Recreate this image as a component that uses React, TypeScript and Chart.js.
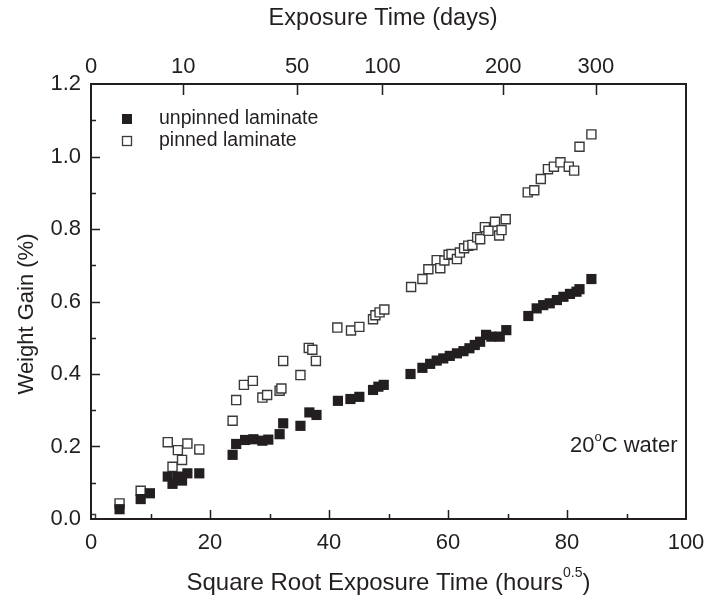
import React, { useEffect, useRef } from "react";
import { Chart, registerables } from "chart.js";

Chart.register(...registerables);

// Square-root exposure time (hours^0.5) and weight gain (%) for each laminate
const unpinnedX = [
  4.8, 8.35, 9.9, 12.9, 13.7, 14.6, 15.3, 16.2, 18.2, 23.8, 24.4, 25.9, 27.3,
  28.8, 29.8, 31.7, 32.3, 35.2, 36.7, 37.9, 41.5, 43.6, 45.1, 47.4, 48.3, 49.2,
  53.7, 55.7, 57.0, 58.1, 59.2, 60.3, 61.5, 62.6, 63.6, 64.5, 65.4, 66.4, 67.3,
  68.7, 69.8, 73.5, 74.9, 76.0, 77.1, 78.3, 79.4, 80.5, 81.6, 82.1, 84.1,
];
const unpinnedY = [
  0.027, 0.055, 0.071, 0.117, 0.097, 0.117, 0.106, 0.126, 0.126, 0.177, 0.207,
  0.218, 0.22, 0.216, 0.219, 0.234, 0.264, 0.257, 0.294, 0.287, 0.326, 0.331,
  0.337, 0.356, 0.365, 0.37, 0.4, 0.417, 0.428, 0.437, 0.443, 0.45, 0.457,
  0.463, 0.471, 0.48, 0.489, 0.508, 0.503, 0.503, 0.521, 0.56, 0.581, 0.59,
  0.595, 0.604, 0.613, 0.621, 0.627, 0.634, 0.662,
];
const pinnedX = [
  0, 4.8, 8.35, 12.9, 13.7, 14.6, 15.3, 16.2, 18.2, 23.8, 24.4, 25.7, 27.2,
  28.8, 29.6, 31.7, 32.0, 32.3, 35.2, 36.6, 37.2, 37.8, 41.4, 43.7, 45.1, 47.4,
  47.8, 48.5, 49.3, 53.8, 55.7, 56.7, 58.1, 58.7, 59.4, 60.1, 60.6, 61.5, 62.0,
  62.7, 63.4, 64.1, 64.9, 65.4, 66.2, 66.8, 67.9, 68.6, 69.0, 69.7, 73.4, 74.5,
  75.6, 76.8, 77.8, 78.9, 80.3, 81.2, 82.1, 84.1,
];
const pinnedY = [
  0.0, 0.043, 0.078, 0.212, 0.144, 0.19, 0.163, 0.208, 0.192, 0.271, 0.328,
  0.37, 0.381, 0.335, 0.342, 0.354, 0.36, 0.436, 0.397, 0.472, 0.467, 0.436,
  0.528, 0.52, 0.53, 0.551, 0.562, 0.57, 0.578, 0.64, 0.662, 0.689, 0.714,
  0.692, 0.713, 0.729, 0.731, 0.717, 0.735, 0.747, 0.754, 0.756, 0.777, 0.772,
  0.805, 0.795, 0.82, 0.782, 0.797, 0.827, 0.901, 0.907, 0.938, 0.965, 0.972,
  0.984, 0.972, 0.961, 1.027, 1.061,
];

// Exposure time in days shown on the top axis
const dayTicks = [0, 10, 50, 100, 200, 300];

const seriesNames = ["unpinned laminate", "pinned laminate"];

const FONT = "'Liberation Sans', Arial, Helvetica, sans-serif";
const INK = "#231f20";

const toPoints = (xs: number[], ys: number[]) =>
  xs.map((x, i) => ({ x, y: ys[i] }));
const sqrtHours = (days: number) => Math.sqrt(days * 24);

// Frame, inward tick marks, titles, legend and annotation
const decorations = {
  id: "decorations",
  afterDatasetsDraw(chart: any) {
    const { ctx, chartArea: a, scales } = chart;
    const sx = scales.x;
    const sy = scales.y;
    const sx2 = scales.x2;
    ctx.save();
    ctx.strokeStyle = INK;
    ctx.lineWidth = 2;
    ctx.strokeRect(a.left, a.top, a.right - a.left, a.bottom - a.top);

    ctx.lineWidth = 1.5;
    ctx.beginPath();
    for (let v = 10; v < 100; v += 10) {
      const px = Math.round(sx.getPixelForValue(v)) + 0.5;
      const len = v % 20 === 0 ? 9 : 5;
      ctx.moveTo(px, a.bottom);
      ctx.lineTo(px, a.bottom - len);
    }
    for (let k = 1; k < 12; k++) {
      const py = Math.round(sy.getPixelForValue(k / 10)) + 0.5;
      const len = k % 2 === 0 ? 9 : 5;
      ctx.moveTo(a.left, py);
      ctx.lineTo(a.left + len, py);
    }
    dayTicks.forEach((d) => {
      if (d === 0) return;
      const px = Math.round(sx2.getPixelForValue(sqrtHours(d))) + 0.5;
      ctx.moveTo(px, a.top);
      ctx.lineTo(px, a.top + 11);
    });
    ctx.stroke();

    ctx.fillStyle = INK;
    ctx.textBaseline = "middle";

    // top title
    ctx.font = `23.5px ${FONT}`;
    ctx.textAlign = "center";
    ctx.fillText("Exposure Time (days)", 383, 19);

    // bottom title with superscript
    const main = "Square Root Exposure Time (hours";
    const sup = "0.5";
    const close = ")";
    ctx.font = `24px ${FONT}`;
    const wMain = ctx.measureText(main).width;
    const wClose = ctx.measureText(close).width;
    ctx.font = `14px ${FONT}`;
    const wSup = ctx.measureText(sup).width;
    let x0 = (a.left + a.right) / 2 - (wMain + wSup + wClose) / 2;
    const yT = 583;
    ctx.textAlign = "left";
    ctx.font = `24px ${FONT}`;
    ctx.fillText(main, x0, yT);
    x0 += wMain;
    ctx.font = `14px ${FONT}`;
    ctx.fillText(sup, x0, yT - 10);
    x0 += wSup;
    ctx.font = `24px ${FONT}`;
    ctx.fillText(close, x0, yT);

    // y title
    ctx.save();
    ctx.font = `22px ${FONT}`;
    ctx.translate(27, 314);
    ctx.rotate(-Math.PI / 2);
    ctx.textAlign = "center";
    ctx.fillText("Weight Gain (%)", 0, 0);
    ctx.restore();

    // legend
    ctx.font = `19.5px ${FONT}`;
    ctx.textAlign = "left";
    ctx.fillRect(122, 114, 10, 10);
    ctx.fillText(seriesNames[0], 159, 119);
    ctx.fillStyle = "#ffffff";
    ctx.fillRect(122, 136, 10, 10);
    ctx.strokeStyle = "#3a3a3a";
    ctx.lineWidth = 1.3;
    ctx.strokeRect(122.5, 136.5, 9, 9);
    ctx.fillStyle = INK;
    ctx.fillText(seriesNames[1], 159, 141);

    // annotation: 20°C water
    let ax = 570;
    const ay = 446;
    ctx.font = `22px ${FONT}`;
    ctx.fillText("20", ax, ay);
    ax += ctx.measureText("20").width;
    ctx.font = `13px ${FONT}`;
    ctx.fillText("o", ax, ay - 9);
    ax += ctx.measureText("o").width;
    ctx.font = `22px ${FONT}`;
    ctx.fillText("C water", ax, ay);

    ctx.restore();
  },
};

// keep edge labels from shrinking the plot horizontally
const noSidePadding = (s: any) => {
  s.paddingLeft = 0;
  s.paddingRight = 0;
};

export default function App() {
  const canvasRef = useRef<HTMLCanvasElement | null>(null);

  useEffect(() => {
    if (!canvasRef.current) return;
    const tickFont = { family: FONT, size: 22 };
    const chart = new Chart(canvasRef.current, {
      type: "scatter",
      data: {
        datasets: [
          {
            label: seriesNames[0],
            data: toPoints(unpinnedX, unpinnedY),
            pointStyle: "rect",
            pointRadius: 7.2,
            pointHoverRadius: 7.2,
            backgroundColor: INK,
            borderColor: INK,
            borderWidth: 0,
            clip: 0,
          },
          {
            label: seriesNames[1],
            data: toPoints(pinnedX, pinnedY),
            pointStyle: "rect",
            pointRadius: 6.4,
            pointHoverRadius: 6.4,
            backgroundColor: "#ffffff",
            borderColor: "#3a3a3a",
            borderWidth: 1.4,
            clip: 0,
          },
        ],
      },
      options: {
        animation: false,
        responsive: false,
        devicePixelRatio: 1,
        layout: { padding: { left: 0, right: 23, top: 0, bottom: 0 } },
        plugins: {
          legend: { display: false },
          tooltip: { enabled: false },
        },
        scales: {
          x: {
            type: "linear",
            position: "bottom",
            min: 0,
            max: 100,
            grid: { display: false, drawTicks: false },
            border: { display: false },
            ticks: {
              stepSize: 20,
              padding: 11,
              maxRotation: 0,
              color: INK,
              font: tickFont,
            },
            afterFit: (s: any) => {
              s.height = 85;
              noSidePadding(s);
            },
          },
          x2: {
            type: "linear",
            position: "top",
            min: 0,
            max: 100,
            grid: { display: false, drawTicks: false },
            border: { display: false },
            afterBuildTicks: (s: any) => {
              s.ticks = dayTicks.map((d) => ({ value: sqrtHours(d) }));
            },
            ticks: {
              autoSkip: false,
              padding: 4,
              maxRotation: 0,
              color: INK,
              font: tickFont,
              callback: (_v: any, i: number) => String(dayTicks[i]),
            },
            afterFit: (s: any) => {
              s.height = 84;
              noSidePadding(s);
            },
          },
          y: {
            type: "linear",
            min: 0,
            max: 1.2,
            grid: { display: false, drawTicks: false },
            border: { display: false },
            ticks: {
              stepSize: 0.2,
              padding: 10,
              color: INK,
              font: tickFont,
              callback: (v: any) => Number(v).toFixed(1),
            },
            afterFit: (s: any) => {
              s.width = 91;
            },
          },
        },
      },
      plugins: [decorations],
    });
    return () => chart.destroy();
  }, []);

  return (
    <div
      style={{
        position: "absolute",
        left: 0,
        top: 0,
        width: 709,
        height: 604,
        background: "#ffffff",
      }}
    >
      <canvas ref={canvasRef} width={709} height={604} />
    </div>
  );
}
